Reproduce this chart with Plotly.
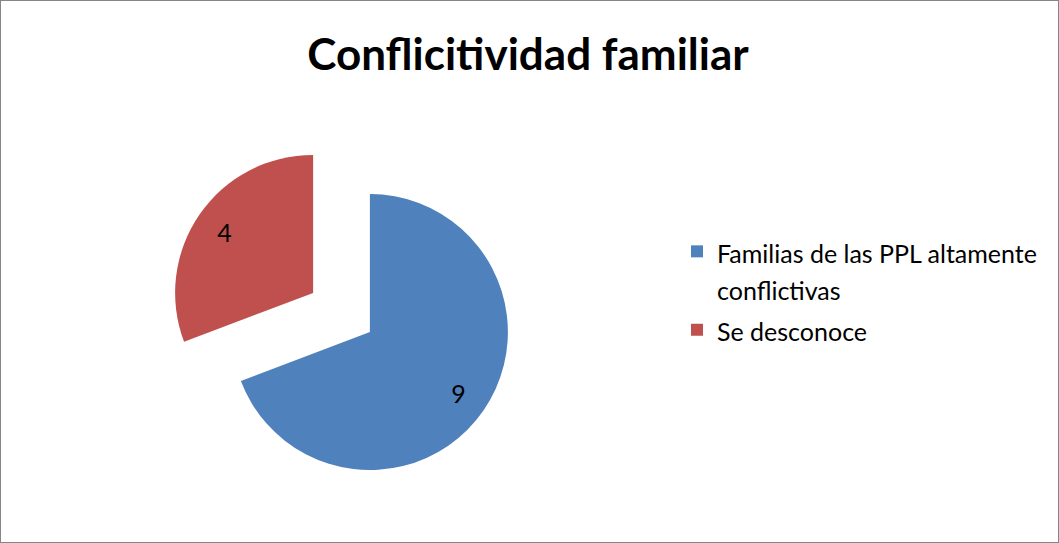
import plotly.graph_objects as go

title_text = "Conflicitividad familiar"
categories = ["Familias de las PPL altamente<br>conflictivas", "Se desconoce"]
values = [9, 4]
colors = ["#4F81BD", "#C0504D"]
pulls = [0.25, 0.25]

W, H = 1059, 543
font_family = "Lato, 'Open Sans', sans-serif"
legend_text_size = 25


def legend_label(name):
    return "<br>".join(
        "<span style='font-size:%dpx'>%s</span>" % (legend_text_size, line)
        for line in name.split("<br>")
    )


domain = dict(x=[169 / W, 514 / W], y=[58 / H, 403 / H])

# Visible slices (no text)
fig = go.Figure(go.Pie(
    labels=[legend_label(c) for c in categories],
    values=values,
    sort=False,
    direction="clockwise",
    rotation=0,
    pull=pulls,
    marker=dict(colors=colors, line=dict(width=0)),
    textinfo="none",
    domain=domain,
    hoverinfo="label+value",
))

# Same data as a transparent ring, so the value labels sit near the outer part of each slice
fig.add_trace(go.Pie(
    labels=[legend_label(c) for c in categories],
    values=values,
    sort=False,
    direction="clockwise",
    rotation=0,
    pull=pulls,
    hole=0.56,
    marker=dict(colors=["rgba(0,0,0,0)"] * len(values), line=dict(width=0)),
    textinfo="value",
    textposition="inside",
    insidetextorientation="horizontal",
    textfont=dict(family=font_family, size=25, color="black"),
    domain=domain,
    showlegend=False,
    hoverinfo="skip",
))

fig.update_layout(
    width=W, height=H,
    margin=dict(l=0, r=0, t=0, b=0),
    paper_bgcolor="white",
    title=dict(text="<b>" + title_text + "</b>", x=528 / W, xanchor="center",
               y=1 - 55 / H, yanchor="middle",
               font=dict(family=font_family, size=44, color="black")),
    legend=dict(x=677 / W, xanchor="left", y=1 - 226 / H, yanchor="top",
                valign="top", font=dict(family=font_family, size=29, color="black"),
                bgcolor="rgba(0,0,0,0)"),
    showlegend=True,
    shapes=[dict(type="rect", xref="paper", yref="paper", x0=0, x1=1, y0=0, y1=1,
                 line=dict(color="#868686", width=2), fillcolor="rgba(0,0,0,0)")],
)

fig.write_html("out.html", config={"displayModeBar": False},
               post_script="document.body.style.margin='0px';")
